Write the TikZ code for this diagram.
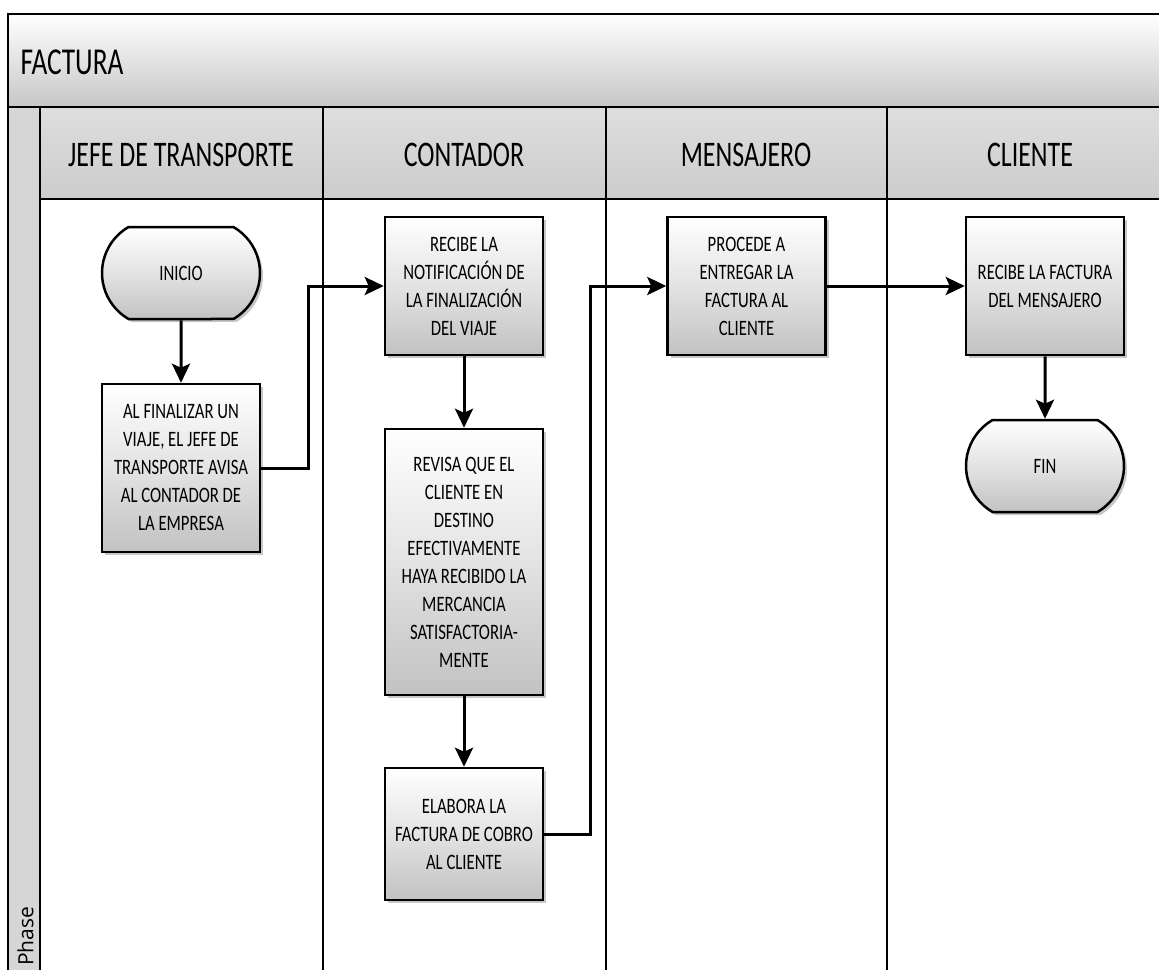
\documentclass[tikz,border=0pt]{standalone}
\usepackage{fontspec}
\setmainfont{Carlito}[FakeStretch=0.76]
\newfontfamily\hdrfont{Carlito}[FakeStretch=0.72]
\newfontfamily\phasefont{Open Sans}
\usetikzlibrary{arrows.meta,shapes.misc,shadows}

\begin{document}
\begin{tikzpicture}[x=1pt,y=-1pt,
  frame/.style={line width=2pt,draw=black},
  lane/.style={line width=1.8pt,draw=black},
  shade/.style={top color=white,bottom color=black!24,middle color=black!11},
  boxtext/.style={font=\fontsize{22}{28}\selectfont,align=center,text=black},
  procbox/.style={rectangle,draw=black,line width=2.5pt,shade,boxtext,
    inner sep=0pt,minimum width=158pt,
    drop shadow={shadow xshift=3pt,shadow yshift=-3pt,opacity=0.22,fill=black}},
  termbox/.style={rounded rectangle,rounded rectangle arc length=120,
    draw=black,line width=2.5pt,shade,boxtext,inner sep=0pt,
    minimum width=158pt,minimum height=92pt,
    drop shadow={shadow xshift=3pt,shadow yshift=-3pt,opacity=0.22,fill=black}},
  flow/.style={line width=3pt,draw=black,
    -{Stealth[length=19pt,width=18pt,inset=4pt]}},
  hdr/.style={font=\hdrfont\fontsize{36}{40}\selectfont,text=black}]

\useasboundingbox (0,0) rectangle (1159,969);

\begin{scope}
\clip (0,0) rectangle (1159,969);

% pool title band, phase strip and lane header band
\fill[top color=white,bottom color=black!22] (8,14) rectangle (1175,107);
\fill[black!16] (8,107) rectangle (40,985);
\fill[top color=black!13,bottom color=black!20] (40,107) rectangle (1175,199);

% outer frame and band separators
\draw[frame] (8,985) -- (8,14) -- (1175,14);
\draw[frame] (8,107) -- (1175,107);
\draw[lane] (40,107) -- (40,985);
\draw[lane] (40,199) -- (1175,199);

% lane separators
\draw[lane] (323,107) -- (323,985);
\draw[lane] (606,107) -- (606,985);
\draw[lane] (887,107) -- (887,985);

% titles
\node[font=\hdrfont\fontsize{38}{40}\selectfont,anchor=west] (pool) at (17,62) {FACTURA};
\node[hdr] (h1) at (181,155) {JEFE DE TRANSPORTE};
\node[hdr] (h2) at (464,155) {CONTADOR};
\node[hdr] (h3) at (746,155) {MENSAJERO};
\node[hdr] (h4) at (1030,155) {CLIENTE};
\node[font=\phasefont\fontsize{21}{22}\selectfont,rotate=90,anchor=west,inner sep=0pt] (phase) at (25.5,966) {Phase};
\end{scope}

% process nodes
\node[termbox] (inicio) at (181,273) {INICIO};
\node[procbox,minimum height=168pt] (avisa) at (181,468)
  {AL FINALIZAR UN\\VIAJE, EL JEFE DE\\TRANSPORTE AVISA\\AL CONTADOR DE\\LA EMPRESA};
\node[procbox,minimum height=138pt] (recibe) at (464,286)
  {RECIBE LA\\NOTIFICACIÓN DE\\LA FINALIZACIÓN\\DEL VIAJE};
\node[procbox,minimum height=266pt] (revisa) at (464,562)
  {REVISA QUE EL\\CLIENTE EN\\DESTINO\\EFECTIVAMENTE\\HAYA RECIBIDO LA\\MERCANCIA\\SATISFACTORIA-\\MENTE};
\node[procbox,minimum height=132pt] (elabora) at (464,834)
  {ELABORA LA\\FACTURA DE COBRO\\AL CLIENTE};
\node[procbox,minimum height=138pt] (procede) at (746.5,286)
  {PROCEDE A\\ENTREGAR LA\\FACTURA AL\\CLIENTE};
\node[procbox,minimum height=138pt] (recibef) at (1045,286)
  {RECIBE LA FACTURA\\DEL MENSAJERO};
\node[termbox] (fin) at (1045,466) {FIN};

% connectors
\draw[flow] (inicio) -- (avisa);
\draw[flow] (avisa.east) -- ++(47,0) |- (recibe.west);
\draw[flow] (recibe) -- (revisa);
\draw[flow] (revisa) -- (elabora);
\draw[flow] (elabora.east) -- ++(46,0) |- (procede.west);
\draw[flow] (procede) -- (recibef);
\draw[flow] (recibef) -- (fin);
\end{tikzpicture}
\end{document}
